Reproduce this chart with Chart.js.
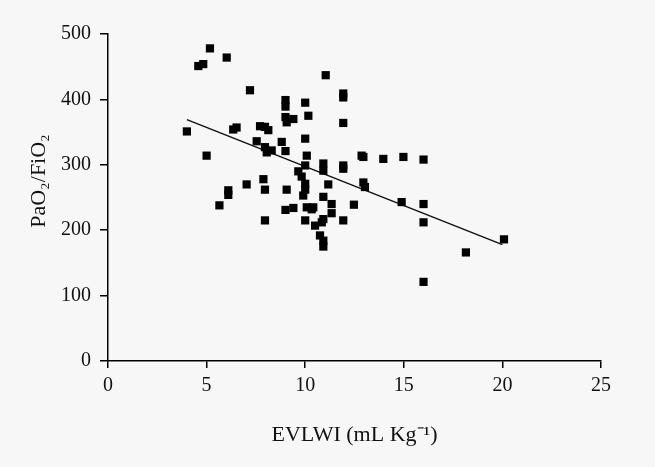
<!DOCTYPE html>
<html>
<head>
<meta charset="utf-8">
<script src="https://cdn.jsdelivr.net/npm/chart.js@4/dist/chart.umd.min.js"></script>
<style>
  html, body { margin: 0; padding: 0; background: #f7f7f7; }
  #wrap { width: 655px; height: 467px; position: relative; }
</style>
</head>
<body>
<div id="wrap"><canvas id="chart"></canvas></div>
<script>
// EVLWI (x) and PaO2/FiO2 (y)
const evlwi = [4.0, 5.0, 5.17, 4.58, 4.83, 6.02, 11.04, 7.2, 9.0, 9.0,
  10.0, 10.16, 9.0, 9.06, 9.4, 6.35, 6.52, 7.71, 7.96, 8.13,
  7.54, 8.81, 10.0, 7.96, 8.05, 8.3, 9.0, 10.08, 10.92, 10.0,
  9.65, 9.82, 10.92, 11.17, 7.88, 7.03, 6.1, 6.1, 7.96, 9.06,
  10.0, 9.9, 10.92, 11.34, 11.34, 5.65, 9.0, 9.4, 10.08, 10.33,
  10.41, 10.0, 10.92, 10.84, 10.5, 7.96, 10.75, 10.92, 10.92, 11.93,
  11.93, 11.93, 12.86, 12.95, 13.96, 14.98, 16.0, 11.93, 11.93, 12.95,
  13.03, 14.89, 16.0, 16.0, 12.47, 11.93, 20.08, 18.15, 16.0, 10.0];
const pafi = [351, 314, 478, 451, 454, 464, 437, 414, 399, 389,
  395, 375, 373, 365, 370, 354, 357, 359, 358, 353,
  336, 335, 340, 327, 319, 322, 321, 314, 302, 299,
  290, 282, 291, 270, 278, 270, 261, 254, 262, 262,
  262, 253, 251, 240, 226, 238, 231, 234, 235, 232,
  235, 215, 217, 212, 207, 215, 192, 184, 175, 409,
  403, 364, 314, 312, 309, 312, 308, 299, 294, 273,
  266, 243, 240, 212, 239, 215, 186, 166, 121, 271];

// regression line end points
const fitX = [4, 20];
const fitY = [369, 178];

const xTicks = [0, 5, 10, 15, 20, 25];
const yTicks = [0, 100, 200, 300, 400, 500];

const points = evlwi.map((x, i) => ({ x: x, y: pafi[i] }));
const fitLine = fitX.map((x, i) => ({ x: x, y: fitY[i] }));

const serif = "'Liberation Serif', 'Times New Roman', serif";

new Chart(document.getElementById('chart'), {
  type: 'scatter',
  data: {
    datasets: [{
      data: points,
      pointStyle: 'rect',
      pointRadius: 5.8,
      pointBorderWidth: 0,
      backgroundColor: '#000',
      borderColor: '#000'
    }, {
      type: 'line',
      data: fitLine,
      borderColor: '#111',
      borderWidth: 1.5,
      pointRadius: 0,
      fill: false
    }]
  },
  options: {
    responsive: true,
    maintainAspectRatio: false,
    animation: false,
    layout: { padding: { left: 0, right: 54, top: 34, bottom: 0 } },
    plugins: { legend: { display: false }, tooltip: { enabled: false } },
    scales: {
      x: {
        type: 'linear',
        min: 0,
        max: 25,
        afterBuildTicks: s => { s.ticks = xTicks.map(v => ({ value: v })); },
        afterFit: s => { s.height = 106; },
        grid: { drawOnChartArea: false, drawTicks: true, tickLength: 7, color: '#000', lineWidth: 1.5 },
        border: { color: '#000', width: 1.5 },
        ticks: { color: '#111', padding: 6, font: { family: serif, size: 20 } },
        title: {
          display: true,
          text: 'EVLWI (mL Kg\u207B\u00B9)',
          color: '#111',
          font: { family: serif, size: 22 },
          padding: { top: 0, bottom: 19 }
        }
      },
      y: {
        min: 0,
        max: 500,
        afterBuildTicks: s => { s.ticks = yTicks.map(v => ({ value: v })); },
        afterFit: s => { s.width = 108; },
        grid: { drawOnChartArea: false, drawTicks: true, tickLength: 8, color: '#000', lineWidth: 1.5 },
        border: { color: '#000', width: 1.5 },
        ticks: { color: '#111', padding: 9, font: { family: serif, size: 20 } },
        title: {
          display: true,
          // leading spaces lift the label a little, as in the original
          text: '      PaO\u2082/FiO\u2082',
          color: '#111',
          font: { family: serif, size: 22 },
          padding: { top: 26, bottom: 0 }
        }
      }
    }
  }
});
</script>
</body>
</html>
